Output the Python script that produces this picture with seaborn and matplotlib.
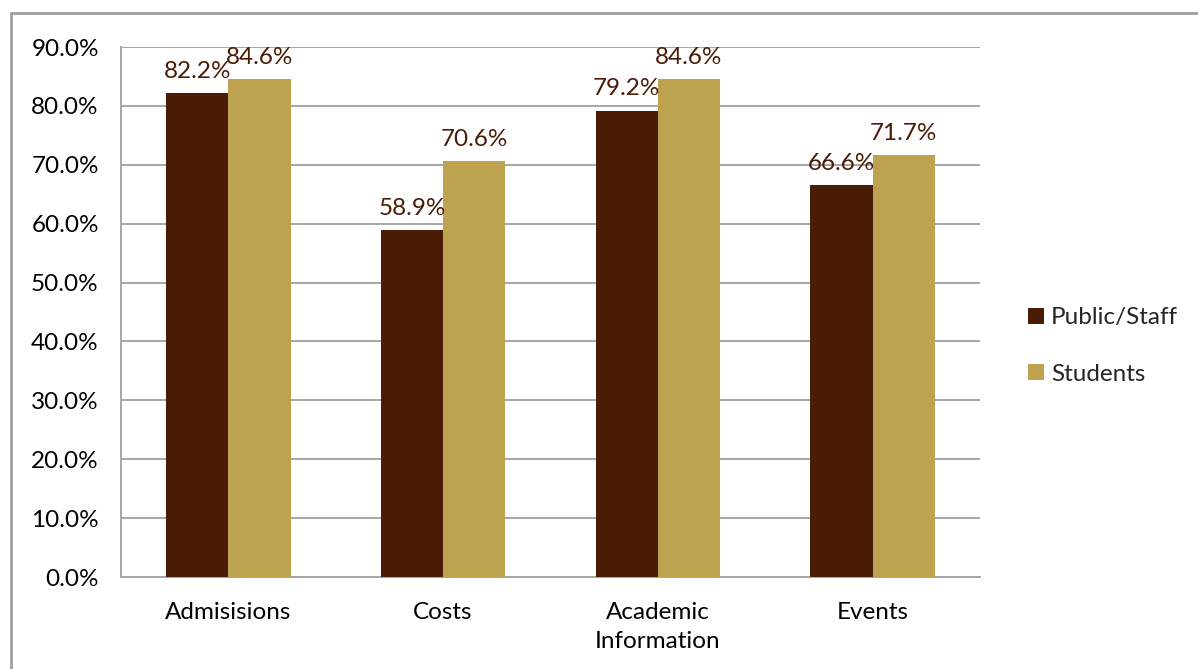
import numpy as np
import pandas as pd
import seaborn as sns
import matplotlib.pyplot as plt
from matplotlib.lines import Line2D
from matplotlib.ticker import MultipleLocator, FixedLocator

categories = ["Admisisions", "Costs", "Academic\nInformation", "Events"]
groups = ["Public/Staff", "Students"]
public_staff = [82.2, 58.9, 79.2, 66.6]
students = [84.6, 70.6, 84.6, 71.7]
colors = ["#4A1C06", "#BDA24F"]
label_color = "#4A1C06"
grid_color = "#A6A6A6"

df = pd.DataFrame({
    "category": categories * 2,
    "group": [groups[0]] * len(categories) + [groups[1]] * len(categories),
    "value": public_staff + students,
})

sns.set_style("white")
plt.rcParams["font.family"] = ["Lato", "DejaVu Sans"]
fs = 17.5

W, H = 1198, 669
fig = plt.figure(figsize=(W / 100, H / 100), dpi=100)
ax = fig.add_axes([121 / W, 1 - 577 / H, (980 - 121) / W, (577 - 47) / H])

sns.barplot(data=df, x="category", y="value", hue="group", palette=colors,
            width=0.58, saturation=1, errorbar=None, linewidth=0, ax=ax, zorder=3)

ax.set_ylim(0, 90)
ax.set_xlim(-0.5, len(categories) - 0.5)
ax.yaxis.set_major_locator(MultipleLocator(10))
ax.set_yticklabels(["{:.1f}%".format(v) for v in ax.get_yticks()])
ax.yaxis.grid(True, color=grid_color, lw=1.4, zorder=0)
ax.set_axisbelow(True)
ax.set_xlabel("")
ax.set_ylabel("")

# x ticks at category boundaries, labels centred
ax.xaxis.set_minor_locator(FixedLocator(np.arange(-0.5, len(categories), 1)))
ax.tick_params(axis="x", which="major", length=0, pad=18, labelsize=fs, colors="black")
ax.tick_params(axis="x", which="minor", length=8, width=1.4, color=grid_color)
ax.tick_params(axis="y", length=8, width=1.4, color=grid_color, pad=8,
               labelsize=fs, labelcolor="black")
for lab in ax.get_xticklabels():
    lab.set_linespacing(1.5)

for side in ["top", "right"]:
    ax.spines[side].set_visible(False)
for side in ["left", "bottom"]:
    ax.spines[side].set_color(grid_color)
    ax.spines[side].set_linewidth(1.4)

for cont in ax.containers:
    ax.bar_label(cont, labels=["{:.1f}%".format(b.get_height()) for b in cont],
                 padding=8, fontsize=fs, color=label_color)

handles, labels = ax.get_legend_handles_labels()
ax.legend_.remove()
fig.legend(handles, labels, loc="center left",
           bbox_to_anchor=(1016 / W, 1 - 346 / H), frameon=False,
           fontsize=fs, handlelength=0.65, handleheight=0.65,
           handletextpad=0.3, labelspacing=1.45, borderpad=0)

# outer chart border (top and left visible)
fig.add_artist(Line2D([11 / W, 11 / W], [0, 1 - 13 / H], color="#A0A0A0", lw=2,
                      transform=fig.transFigure))
fig.add_artist(Line2D([11 / W, 1], [1 - 13 / H, 1 - 13 / H], color="#A0A0A0", lw=2,
                      transform=fig.transFigure))

fig.savefig("out.png", dpi=100)
